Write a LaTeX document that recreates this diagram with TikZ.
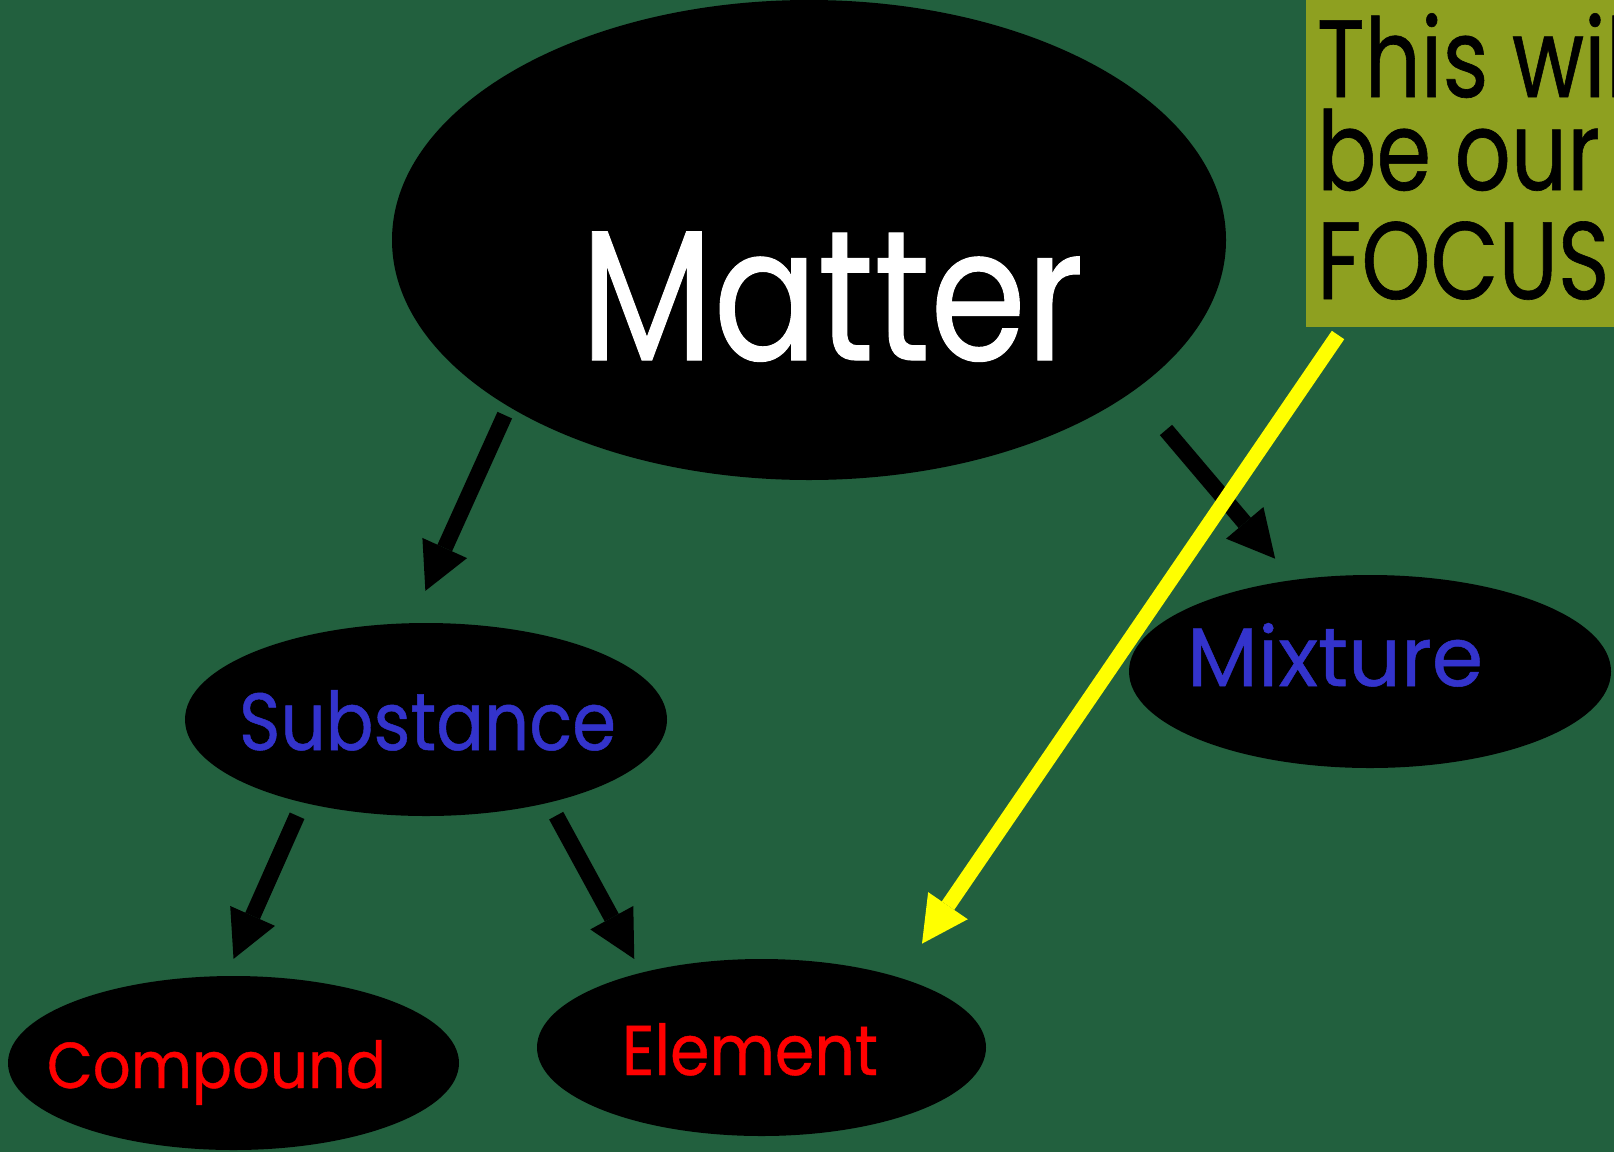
\documentclass[tikz,border=0pt]{standalone}
\usepackage{fontspec}
\setmainfont{Poppins}
\usepackage{graphicx}
\usetikzlibrary{shapes.geometric,arrows.meta}
\definecolor{marble}{RGB}{34,96,62}
\definecolor{olivebox}{RGB}{142,160,32}
\definecolor{wordblue}{RGB}{51,51,204}
\definecolor{wordred}{RGB}{255,0,0}
\definecolor{arrowyellow}{RGB}{255,255,0}
\begin{document}
\begin{tikzpicture}[x=1pt,y=-1pt,
  bubble/.style={ellipse, fill=black, inner sep=0pt, outer sep=0pt},
  word/.style={inner sep=0pt, outer sep=0pt, anchor=base},
  flow/.style={line width=16pt, black, -{Triangle[length=47pt,width=49pt,line width=0pt]}},
  focusarrow/.style={line width=15pt, arrowyellow, -{Triangle[length=46pt,width=48pt,line width=0pt]}},
  focusline/.style={inner sep=0pt, outer sep=0pt, anchor=base west, font=\fontsize{110}{110}\selectfont, text=black}]
\useasboundingbox (0,0) rectangle (1614,1152);
\clip (0,0) rectangle (1614,1152);
\fill[marble] (0,0) rectangle (1614,1152);

% ellipses
\node[bubble, minimum width=834pt, minimum height=480pt] (matter) at (809,240) {};
\node[bubble, minimum width=482pt, minimum height=193pt] (substance) at (426,719.5) {};
\node[bubble, minimum width=482pt, minimum height=193pt] (mixture) at (1370,671.5) {};
\node[bubble, minimum width=451pt, minimum height=174pt] (compound) at (233.5,1063) {};
\node[bubble, minimum width=449pt, minimum height=177pt] (element) at (761.5,1047.5) {};

% words
\node[word, text=white] (mattertext) at (832,360) {\resizebox{503pt}{128pt}{\addfontfeature{FakeBold=0.6}Matter}};
\node[word, text=wordblue] (substancetext) at (427.5,750) {\resizebox{377pt}{60pt}{\addfontfeature{FakeBold=0.6}Substance}};
\node[word, text=wordblue] (mixturetext) at (1335,686) {\resizebox{296pt}{63pt}{\addfontfeature{FakeBold=0.6}Mixture}};
\node[word, text=wordred] (compoundtext) at (216.5,1088) {\resizebox{339pt}{48pt}{\addfontfeature{FakeBold=0.6}Compound}};
\node[word, text=wordred] (elementtext) at (750,1075) {\resizebox{256pt}{52pt}{\addfontfeature{FakeBold=0.6}Element}};

% black arrows
\draw[flow, shorten <=9.5pt, shorten >=35.5pt] (matter.209.25) -- (substance.99.4);
\draw[flow, shorten <=51pt, shorten >=28pt] (matter.-25.57) -- (mixture.130.7);
\draw[flow, shorten <=14.5pt, shorten >=18.8pt] (substance.214.3) -- (compound.95.5);
\draw[flow, shorten <=15pt, shorten >=15.6pt] (substance.-34.4) -- (element.148.1);

% focus box
\node[fill=olivebox, minimum width=330pt, minimum height=330pt, anchor=south west, inner sep=0pt, outer sep=0pt] (focusbox) at (1306,327) {};
\node[focusline] (focus1) at (1317,97) {\scalebox{0.8}[1]{\addfontfeature{FakeBold=0.6}This will}};
\node[focusline] (focus2) at (1317,190) {\scalebox{0.8}[1]{\addfontfeature{FakeBold=0.6}be our}};
\node[focusline] (focus3) at (1317,299) {\scalebox{0.8}[1]{\addfontfeature{FakeBold=0.6}FOCUS}};

% yellow arrow
\draw[focusarrow, shorten <=9.7pt, shorten >=41pt] ([xshift=37.5pt]focusbox.south west) -- (element.27.2);
\end{tikzpicture}
\end{document}
